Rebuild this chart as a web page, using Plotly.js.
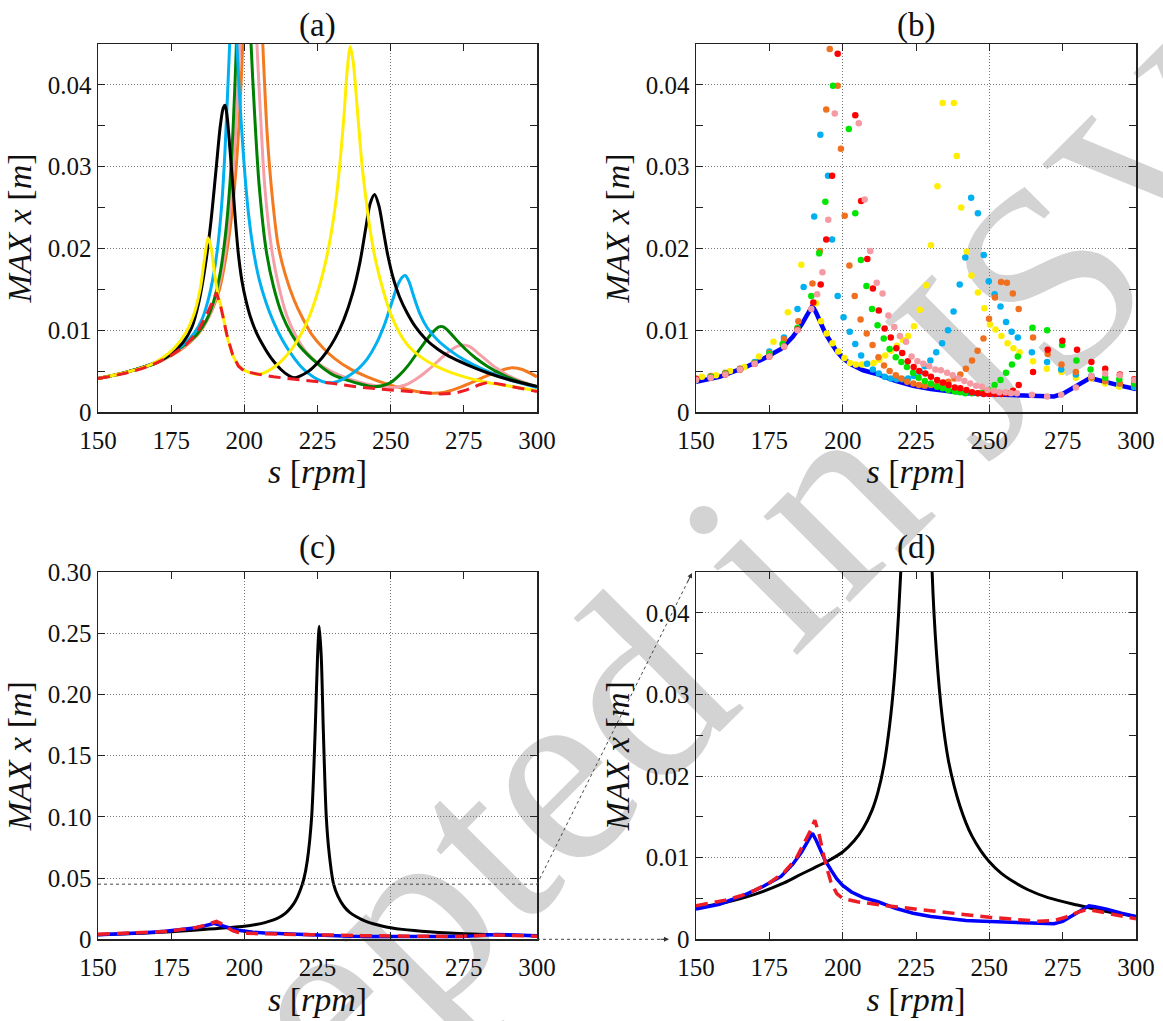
<!DOCTYPE html>
<html><head><meta charset="utf-8">
<script src="https://cdn.plot.ly/plotly-3.0.1.min.js"></script>
<style>html,body{margin:0;padding:0;background:#fff}</style>
</head><body><div id="chart" style="width:1163px;height:1021px"></div>
<script>
// ---------- axis ticks ----------
const xTickVals = [150,175,200,225,250,275,300];
const xTickText = ['150','175','200','225','250','275','300'];
const xGridVals = [200,250];
const ySmallTickVals = [0,0.01,0.02,0.03,0.04];
const ySmallTickText = ['0','0.01','0.02','0.03','0.04'];
const ySmallMinor = [0.005,0.015,0.025,0.035,0.045];
const yBigTickVals = [0,0.05,0.10,0.15,0.20,0.25,0.30];
const yBigTickText = ['0','0.05','0.10','0.15','0.20','0.25','0.30'];
const panelLabels = ['(a)','(b)','(c)','(d)'];
const watermarkText = 'Accepted in JSV';

// ---------- (a) curves ----------
const sA_red = [150,155,160,165,170,175,180,184,187,189,190.5,192,194,196,198,200,205,210,215,220,230,240,250,260,267,272,276,280,283,286,290,295,300];
const vA_red = [0.0041,0.0044,0.0048,0.0053,0.0060,0.0069,0.0082,0.0098,0.0118,0.0133,0.0146,0.0128,0.0095,0.0070,0.0056,0.0050,0.0046,0.0043,0.0041,0.0039,0.0035,0.0030,0.0027,0.0024,0.0022,0.0023,0.0027,0.0033,0.0036,0.0035,0.0032,0.0028,0.0025];

const sA_yel = [150,160,168,172,176,180,183,185,186.5,187.6,188.7,189.8,191,192.5,194,196,198,200,202,204.5,208,212,216,219,222,224.5,227,229,231,232.5,234,235.2,236.2,237.2,238.5,240,241.5,243,245,247.5,250,253,256,260,265,270,276,283,290,300];
const vA_yel = [0.0041,0.0049,0.0058,0.0066,0.0078,0.0097,0.0122,0.0152,0.0190,0.0213,0.0200,0.0170,0.0143,0.0122,0.0094,0.0070,0.0057,0.0051,0.0048,0.0046,0.0050,0.0060,0.0076,0.0093,0.0115,0.0140,0.0172,0.0205,0.0250,0.0298,0.0360,0.0420,0.0447,0.0428,0.0375,0.0310,0.0262,0.0222,0.0183,0.0148,0.0120,0.0097,0.0081,0.0068,0.0057,0.0049,0.0042,0.0036,0.0032,0.0026];

const sA_blk = [150,160,170,175,179,182,184.5,186.5,188.5,190.3,191.8,192.8,193.4,194.1,195,196,197,198,199.2,200.5,202,204,206,208,210,212.5,215,217,219,222,225,228,231,234,237,239.5,241.5,243,244.5,246,247.5,249,251,253,255.5,258.5,262,266,270,276,283,290,300];
const vA_blk = [0.0041,0.0049,0.0061,0.0071,0.0085,0.0103,0.0135,0.0175,0.0230,0.0295,0.0350,0.0372,0.0375,0.0362,0.0325,0.0280,0.0232,0.0192,0.0160,0.0137,0.0117,0.0098,0.0084,0.0072,0.0062,0.0052,0.0045,0.0042,0.0044,0.0050,0.0060,0.0073,0.0090,0.0113,0.0145,0.0183,0.0225,0.0255,0.0266,0.0252,0.0222,0.0192,0.0162,0.0141,0.0122,0.0104,0.0089,0.0077,0.0068,0.0058,0.0048,0.0040,0.0031];

const sA_cya = [150,160,170,175,180,183,185.5,187.5,189.5,191,192.3,193.4,194.4,195.1,196.1,197.1,198,199,200.2,201.5,203,205,207.5,210,213,216,219,222,225,228,230.5,233,236,239,242,245,248,250.5,252.5,254,255,256.2,258,260,262.5,266,270,275,281,290,300];
const vA_cya = [0.0041,0.0049,0.0061,0.0071,0.0085,0.0097,0.0113,0.0135,0.0168,0.0205,0.0255,0.0320,0.0400,0.0460,0.0560,0.0480,0.0410,0.0350,0.0290,0.0240,0.0200,0.0163,0.0133,0.0110,0.0088,0.0071,0.0057,0.0047,0.0040,0.0036,0.0036,0.0039,0.0045,0.0053,0.0065,0.0083,0.0108,0.0135,0.0156,0.0165,0.0167,0.0160,0.0140,0.0120,0.0103,0.0088,0.0076,0.0064,0.0053,0.0040,0.0030];

const sA_grn = [150,160,170,175,180,184,187,189.5,191.5,193.5,195,196.2,197.2,198.5,200,201.3,202.3,203.5,205,207.5,210,213,216,219,224.7,230,236,240,244,247,250,253,256,259,262,264.5,266.5,268,270,272.5,275.5,279,283,288,294,300];
const vA_grn = [0.0041,0.0049,0.0060,0.0071,0.0083,0.0096,0.0112,0.0135,0.0165,0.0215,0.0275,0.0350,0.0440,0.0600,0.0700,0.0560,0.0450,0.0365,0.0280,0.0197,0.0153,0.0118,0.0096,0.0080,0.0060,0.0046,0.0038,0.0034,0.0031,0.0032,0.0036,0.0045,0.0057,0.0072,0.0087,0.0098,0.0104,0.0104,0.0098,0.0088,0.0077,0.0066,0.0056,0.0046,0.0037,0.0031];

const sA_pnk = [150,160,170,175,180,185,188,190.5,192.5,194.5,196,197.3,198.4,200,201.5,203,204.3,205.5,207,209.3,211.5,214.5,217.5,221,225,230,236,242,247,251,255,259,263,267,270,272.5,274.7,277,279.5,282.5,286,290,295,300];
const vA_pnk = [0.0041,0.0049,0.0060,0.0070,0.0082,0.0100,0.0118,0.0143,0.0175,0.0225,0.0285,0.0360,0.0445,0.0650,0.0700,0.0560,0.0450,0.0365,0.0275,0.0200,0.0158,0.0118,0.0094,0.0074,0.0060,0.0049,0.0040,0.0034,0.0031,0.0030,0.0033,0.0041,0.0052,0.0065,0.0074,0.0080,0.0082,0.0080,0.0073,0.0064,0.0054,0.0045,0.0037,0.0031];

const sA_org = [150,160,170,175,180,185,189,191.5,193.5,195.5,197,198.3,199.4,201,202.8,204.7,206.3,207.8,209.5,211.5,214,217,220,223,227,231,236,242,248,254,259,264,268,272,277,282,287,291.5,295,300];
const vA_org = [0.0041,0.0049,0.0060,0.0069,0.0081,0.0099,0.0125,0.0150,0.0185,0.0235,0.0290,0.0360,0.0445,0.0620,0.0700,0.0580,0.0450,0.0340,0.0265,0.0205,0.0168,0.0137,0.0114,0.0095,0.0078,0.0065,0.0053,0.0043,0.0035,0.0029,0.0025,0.0023,0.0024,0.0028,0.0035,0.0043,0.0050,0.0054,0.0052,0.0043];

// ---------- blue curve (b), (c), (d) ----------
const sB_blu = [150,158,167,173,179,183,186,188,189.7,191,192.5,194,196,198,200,203,207,212,218,224,230,236,242,248,255,262,268,272,275,278,281,284,286,290,295,300];
const vB_blu = [0.0037,0.0043,0.0055,0.0065,0.0077,0.0092,0.0107,0.0119,0.0130,0.0121,0.0109,0.0097,0.0085,0.0074,0.0066,0.0058,0.0051,0.0046,0.0038,0.0032,0.0028,0.0025,0.0023,0.0022,0.0021,0.0020,0.0020,0.0019,0.0022,0.0028,0.0034,0.0041,0.0040,0.0037,0.0032,0.0028];

// ---------- (b) scatter series ----------
const sB_cya = [150,155,160,165,170,175,180,184.6,186.7,190.3,192.4,195,196.4,198.3,200.3,202.4,204.3,206.3,208.3,210.3,212.3,214.3,216.3,218.3,220.3,222.3,224.3,226.3,228,229.9,231.9,233.9,235.9,237.8,239.9,241.8,243.8,246.1,248.1,249.8,251.8,253.8,255.7,257.6,259.7,264.5,269.7,274.5,279.5,284.8,289.5,294.3,299.4];
const vB_cya = [0.0040,0.0043,0.0047,0.0053,0.0061,0.0074,0.0091,0.0126,0.0153,0.0239,0.0339,0.0289,0.0211,0.0142,0.0116,0.0098,0.0083,0.0069,0.0059,0.0052,0.0047,0.0043,0.0041,0.0040,0.0040,0.0041,0.0044,0.0049,0.0056,0.0063,0.0073,0.0084,0.0100,0.0123,0.0156,0.0189,0.0262,0.0243,0.0192,0.0160,0.0144,0.0129,0.0110,0.0098,0.0091,0.0073,0.0061,0.0052,0.0046,0.0044,0.0038,0.0035,0.0031];

const sB_yel = [152,156.8,161.6,166.5,171.5,176.4,181.3,185.9,190.9,192.6,194.5,196.5,198.5,200.6,202.5,204.5,206.6,208.5,210.6,212.5,214.5,216.5,218.5,220.5,222.3,224.3,226.3,228.4,230.1,232.3,234.1,237.9,238.9,240.4,242.3,243.9,246.1,248.3,250.2,252.1,254.1,256.2,258.2,260.3,264.9,269.6,274.6,279.5,284.8,289.5,294.3,299.4];
const vB_yel = [0.0043,0.0045,0.0050,0.0055,0.0068,0.0086,0.0122,0.0180,0.0133,0.0111,0.0096,0.0084,0.0074,0.0066,0.0060,0.0058,0.0058,0.0059,0.0060,0.0064,0.0069,0.0075,0.0081,0.0088,0.0093,0.0105,0.0125,0.0155,0.0204,0.0276,0.0378,0.0378,0.0313,0.0250,0.0196,0.0167,0.0146,0.0127,0.0107,0.0101,0.0093,0.0084,0.0078,0.0073,0.0062,0.0053,0.0049,0.0042,0.0041,0.0035,0.0031,0.0031];

const sB_grn = [150,155,160,165,170,175,179.5,184.6,189.3,192,194.1,196.7,202.1,204.3,206.2,208.1,210,211.9,214,216,218.1,220,221.9,224,225.9,228,230.1,232.2,234.1,236,238.2,240,241.8,244,246,247.8,249.8,251.8,253.8,255.7,257.7,259.7,264.7,269.7,274.8,279.7,284.5,289.5,294.3,299.4];
const vB_grn = [0.0039,0.0043,0.0047,0.0052,0.0060,0.0071,0.0083,0.0103,0.0142,0.0194,0.0257,0.0399,0.0346,0.0243,0.0186,0.0154,0.0126,0.0106,0.0090,0.0077,0.0067,0.0061,0.0055,0.0048,0.0042,0.0038,0.0035,0.0031,0.0029,0.0027,0.0025,0.0024,0.0023,0.0023,0.0023,0.0024,0.0027,0.0033,0.0039,0.0048,0.0058,0.0068,0.0103,0.0100,0.0082,0.0063,0.0052,0.0042,0.0040,0.0035];

const sB_red = [150,155,160,165,170,175,180,184.6,190,192.5,194.4,196.4,198.3,204.3,206.3,208.4,210.3,212.3,214.3,216.4,218.3,220.3,222.2,224.2,226.1,228.2,230.1,232.2,234.2,236.1,238.2,240.1,242.2,244.1,246.1,248.1,250,252,254.1,256,258.1,260,264.9,269.9,274.9,279.9,284.8,289.5,294.5,299.4];
const vB_red = [0.0040,0.0042,0.0046,0.0052,0.0059,0.0068,0.0080,0.0101,0.0134,0.0156,0.0211,0.0289,0.0438,0.0363,0.0258,0.0187,0.0151,0.0124,0.0102,0.0091,0.0078,0.0072,0.0062,0.0055,0.0050,0.0047,0.0043,0.0039,0.0036,0.0033,0.0030,0.0029,0.0027,0.0024,0.0023,0.0022,0.0022,0.0022,0.0022,0.0023,0.0026,0.0033,0.0049,0.0076,0.0087,0.0076,0.0061,0.0053,0.0046,0.0040];

const sB_org = [150,155,160,165,170,175,180,184.9,189.7,192.2,194.4,195.6,198.3,199.4,200.7,202.3,204.1,206.1,208.2,210.2,212.2,214.1,216,218.1,220,222,224.1,226,228,230.1,232.2,234.1,236,238.1,240.1,242,244.1,246,248,249.9,251.9,254,256,258,260,264.9,269.9,274.6,279.5,284.8,289.5,294.5,299.4];
const vB_org = [0.0041,0.0044,0.0048,0.0053,0.0060,0.0072,0.0089,0.0111,0.0157,0.0197,0.0370,0.0444,0.0399,0.0322,0.0240,0.0179,0.0142,0.0113,0.0096,0.0082,0.0067,0.0057,0.0050,0.0045,0.0041,0.0037,0.0035,0.0033,0.0032,0.0033,0.0033,0.0034,0.0037,0.0041,0.0046,0.0053,0.0063,0.0075,0.0090,0.0114,0.0140,0.0159,0.0158,0.0145,0.0126,0.0091,0.0071,0.0058,0.0049,0.0042,0.0038,0.0035,0.0035];

const sB_pnk = [150,155,160,165,170,175,180,184.6,189.3,191.3,193.1,195.1,197.3,205.5,207.5,209.4,211.6,213.6,215.6,217.6,219.5,221.6,223.5,225.5,227.5,229.5,231.6,233.5,235.6,237.5,239.5,241.5,243.5,245.5,247.5,249.4,251.5,253.4,255.5,257.4,259.4,264.5,269.7,274.5,279.5,284.8,289.5,294.5,299.4];
const vB_pnk = [0.0039,0.0042,0.0046,0.0052,0.0059,0.0068,0.0080,0.0100,0.0126,0.0144,0.0171,0.0235,0.0365,0.0353,0.0260,0.0197,0.0158,0.0145,0.0118,0.0104,0.0093,0.0086,0.0068,0.0062,0.0059,0.0056,0.0052,0.0051,0.0048,0.0045,0.0041,0.0038,0.0035,0.0032,0.0031,0.0027,0.0026,0.0024,0.0024,0.0023,0.0023,0.0021,0.0019,0.0021,0.0030,0.0044,0.0047,0.0045,0.0039];

// ---------- (c)/(d) black curve ----------
const sC_blk = [150,160,170,180,186,190,195,200,204,207,210,212,214,216,217.5,219,220.3,221.5,223,224.2,225,225.6,226.3,227,228,229,230.5,232,234,236,238,240,242,244,247,250,254,258,263,270,280,290,300];
const vC_blk = [0.0038,0.0045,0.0055,0.0069,0.0080,0.0087,0.0096,0.0107,0.0121,0.0136,0.0158,0.0180,0.0212,0.0262,0.0315,0.0395,0.0490,0.0640,0.1000,0.1700,0.2300,0.2557,0.2300,0.1700,0.1000,0.0700,0.0450,0.0350,0.0270,0.0220,0.0188,0.0163,0.0143,0.0127,0.0109,0.0095,0.0081,0.0071,0.0061,0.0051,0.0042,0.0034,0.0028];

// ---------- styling ----------
const FONT = 'Liberation Serif, Times New Roman, DejaVu Serif, serif';
const AX = '#222';
const GRID = '#777777';
const GDASH = '1px,2px';
const W = 1163, H = 1021;
const colL = [98/W, 537/W], colR = [696/W, 1136/W];
const rowT = [1-412/H, 1-44/H], rowB = [1-939.3/H, 1-572/H];

function xAxis(dom, anchor){
  return {domain: dom, anchor: anchor, range:[150,300], autorange:false,
    tickmode:'array', tickvals:xTickVals, ticktext:xTickText,
    ticks:'inside', ticklen:7, tickwidth:1, tickcolor:AX, ticklabelstandoff:5,
    showline:true, linecolor:AX, linewidth:1.5, mirror:'allticks',
    showgrid:false, zeroline:false,
    minor:{tickmode:'array', tickvals:xGridVals, showgrid:true, gridcolor:GRID, gridwidth:1, griddash:GDASH, ticks:''},
    tickfont:{family:FONT, size:25, color:'#111'},
    title:{text:'<i>s</i> [<i>rpm</i>]', font:{family:FONT, size:34, color:'#111'}, standoff:6}};
}
function yAxis(dom, anchor, range, tv, tt, minorVals){
  const a = {domain: dom, anchor: anchor, range: range, autorange:false,
    tickmode:'array', tickvals:tv, ticktext:tt,
    ticks:'inside', ticklen:7, tickwidth:1, tickcolor:AX,
    showline:true, linecolor:AX, linewidth:1.5, mirror:'allticks',
    showgrid:true, gridcolor:GRID, gridwidth:1, griddash:GDASH, zeroline:false,
    tickfont:{family:FONT, size:25, color:'#111'},
    title:{text:'<i>MAX x</i> [<i>m</i>]', font:{family:FONT, size:34, color:'#111'}, standoff:6}};
  if (minorVals) a.minor = {tickmode:'array', tickvals:minorVals, ticks:'inside', ticklen:7, tickwidth:1, tickcolor:AX, showgrid:false};
  return a;
}

function line(x, y, color, width, xa, ya, opts){
  return Object.assign({type:'scatter', mode:'lines', x:x, y:y, xaxis:xa, yaxis:ya,
    line:{color:color, width:width, shape:'spline', smoothing:0.8}, hoverinfo:'skip', cliponaxis:true}, opts||{});
}
function dots(x, y, color){
  return {type:'scatter', mode:'markers', x:x, y:y, xaxis:'x2', yaxis:'y2',
    marker:{color:color, size:6.5, line:{width:0}}, hoverinfo:'skip', cliponaxis:true};
}

const C = {yel:'#ffee00', blk:'#000000', cya:'#00b0f0', grn:'#008000', pnk:'#f5a0a8', org:'#f47a20',
           red:'#ee1c25', blu:'#0000ff', grnB:'#00e600', redB:'#ff0000', orgB:'#f07020', pnkB:'#f59aa2'};
const DASH = '12px,7px';

const data = [
  line(sA_org, vA_org, C.org, 3, 'x', 'y'),
  line(sA_pnk, vA_pnk, C.pnk, 3, 'x', 'y'),
  line(sA_grn, vA_grn, C.grn, 3, 'x', 'y'),
  line(sA_cya, vA_cya, C.cya, 3, 'x', 'y'),
  line(sA_blk, vA_blk, C.blk, 3, 'x', 'y'),
  line(sA_yel, vA_yel, C.yel, 3, 'x', 'y'),
  line(sA_red, vA_red, C.red, 3, 'x', 'y', {line:{color:C.red, width:3, dash:DASH, shape:'linear'}}),
  line(sB_blu, vB_blu, C.blu, 4.5, 'x2', 'y2', {line:{color:C.blu, width:4.5, shape:'linear'}}),
  dots(sB_yel, vB_yel, C.yel),
  dots(sB_cya, vB_cya, C.cya),
  dots(sB_org, vB_org, C.orgB),
  dots(sB_grn, vB_grn, C.grnB),
  dots(sB_red, vB_red, C.redB),
  dots(sB_pnk, vB_pnk, C.pnkB),
  line(sC_blk, vC_blk, C.blk, 3, 'x3', 'y3'),
  line(sB_blu, vB_blu, C.blu, 3.5, 'x3', 'y3', {line:{color:C.blu, width:3.5, shape:'linear'}}),
  line(sA_red, vA_red, C.red, 3.5, 'x3', 'y3', {line:{color:C.red, width:3.5, dash:DASH, shape:'linear'}}),
  line(sC_blk, vC_blk, C.blk, 3, 'x4', 'y4'),
  line(sB_blu, vB_blu, C.blu, 3.5, 'x4', 'y4', {line:{color:C.blu, width:3.5, shape:'linear'}}),
  line(sA_red, vA_red, C.red, 3.5, 'x4', 'y4', {line:{color:C.red, width:3.5, dash:DASH, shape:'linear'}})
];

const zoomTop = 0.045;
const yZoomC = rowB[0] + zoomTop/0.30*(rowB[1]-rowB[0]);
const tipDX = colR[0] - 4/W, tipDY = rowB[1] - 1/H;
const tip0X = colR[0] - 27/W;
const wmX = 585/W, wmY = 1-700/H;

const shapes = [
  {type:'rect', xref:'paper', yref:'paper', x0:wmX-0.06, x1:wmX+0.06, y0:wmY-0.06, y1:wmY+0.06, layer:'below',
   line:{width:0}, fillcolor:'rgba(0,0,0,0)',
   label:{text:watermarkText, textposition:'middle center', textangle:-45,
          font:{family:FONT, size:265, color:'#d3d3d3'}}},
  {type:'line', xref:'x3', yref:'y3', x0:150, x1:300, y0:zoomTop, y1:zoomTop, line:{color:'#444', width:1, dash:'dot'}},
  {type:'line', xref:'paper', yref:'paper', x0:colL[1], y0:yZoomC, x1:tipDX, y1:tipDY, line:{color:'#444', width:1, dash:'dot'}},
  {type:'line', xref:'paper', yref:'paper', x0:colL[1], y0:rowB[0], x1:tip0X, y1:rowB[0], line:{color:'#444', width:1, dash:'dot'}}
];

const annotations = [
  {text:panelLabels[0], x:(colL[0]+colL[1])/2, y:1-25/H},
  {text:panelLabels[1], x:(colR[0]+colR[1])/2, y:1-25/H},
  {text:panelLabels[2], x:(colL[0]+colL[1])/2, y:1-547/H},
  {text:panelLabels[3], x:(colR[0]+colR[1])/2, y:1-547/H}
].map(a => Object.assign({xref:'paper', yref:'paper', showarrow:false, xanchor:'center', yanchor:'middle',
   font:{family:FONT, size:33, color:'#111'}}, a));
annotations.push({xref:'paper', yref:'paper', x:tipDX, y:tipDY, ax:-5, ay:10, text:'', showarrow:true,
  arrowhead:2, arrowsize:1, arrowwidth:1, arrowcolor:'#333'});
annotations.push({xref:'paper', yref:'paper', x:tip0X, y:rowB[0], ax:-10, ay:0, text:'', showarrow:true,
  arrowhead:2, arrowsize:1, arrowwidth:1, arrowcolor:'#333'});

const layout = {
  width:W, height:H, margin:{l:0, r:0, t:0, b:0},
  paper_bgcolor:'#ffffff', plot_bgcolor:'rgba(0,0,0,0)', showlegend:false,
  font:{family:FONT, color:'#111'},
  xaxis: xAxis(colL, 'y'),  yaxis: yAxis(rowT, 'x', [0,0.045], ySmallTickVals, ySmallTickText, ySmallMinor),
  xaxis2: xAxis(colR, 'y2'), yaxis2: yAxis(rowT, 'x2', [0,0.045], ySmallTickVals, ySmallTickText, ySmallMinor),
  xaxis3: xAxis(colL, 'y3'), yaxis3: yAxis(rowB, 'x3', [0,0.30], yBigTickVals, yBigTickText, null),
  xaxis4: xAxis(colR, 'y4'), yaxis4: yAxis(rowB, 'x4', [0,0.045], ySmallTickVals, ySmallTickText, ySmallMinor),
  shapes: shapes, annotations: annotations
};

Plotly.newPlot('chart', data, layout, {displayModeBar:false, staticPlot:true});
</script></body></html>
